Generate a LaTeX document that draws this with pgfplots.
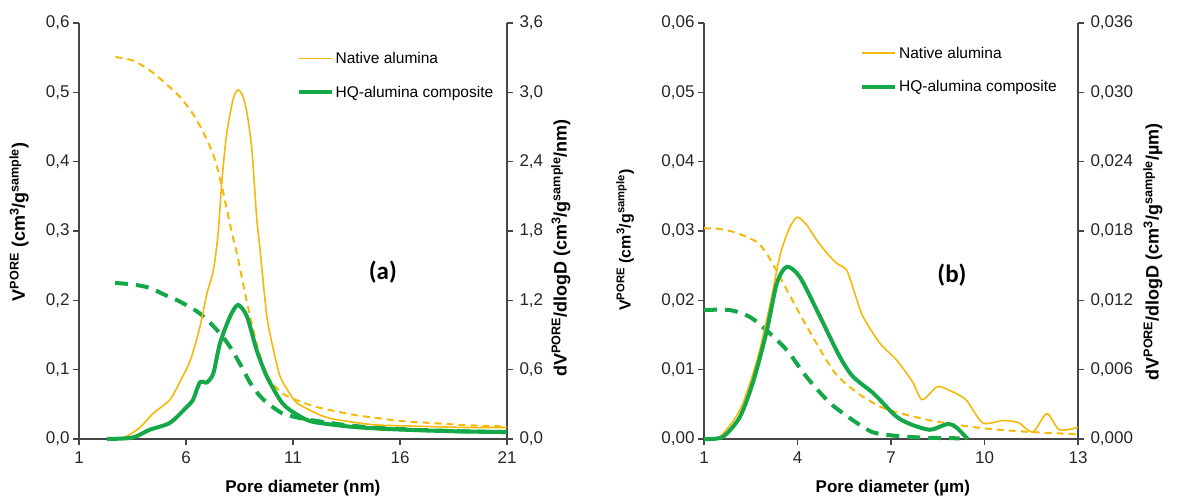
\documentclass[border=0pt]{standalone}
\usepackage{pgfplots}
\pgfplotsset{compat=1.18}
\usepackage{fontspec}
\setmainfont{Liberation Sans}
\newfontfamily\calib{Carlito}
\definecolor{ylw}{RGB}{245,185,10}
\definecolor{grn}{RGB}{20,168,72}
\definecolor{axc}{RGB}{70,70,70}

\pgfplotsset{
  base/.style={
    scale only axis, height=416pt, clip=false, scaled y ticks=false,
    axis line style={axc, line width=1.3pt},
    major tick style={axc, line width=1.3pt},
    major tick length=6pt, tick align=outside,
    tick label style={font=\fontsize{17}{19}\selectfont, text=black!85},
    /pgf/number format/assume math mode=true,
    label style={font=\bfseries\fontsize{18}{20}\selectfont},
    xlabel style={font=\bfseries\fontsize{17}{19}\selectfont},
    xticklabel style={/pgf/number format/fixed, /pgf/number format/precision=0, yshift=-3pt},
  },
  lbase/.style={base, axis x line*=bottom, axis y line*=left},
  rbase/.style={base, axis y line*=right, axis x line=none, yticklabel style={xshift=3pt}},
  ysty/.style={yticklabel style={/pgf/number format/fixed, /pgf/number format/fixed zerofill,
     /pgf/number format/precision=#1, /pgf/number format/use comma}},
  nat/.style={ylw, line width=1.6pt, smooth, tension=0.45},
  natd/.style={ylw, line width=2pt, dash pattern=on 7pt off 5pt, smooth, tension=0.45},
  hq/.style={grn, line width=4pt, smooth, tension=0.45},
  hqd/.style={grn, line width=4pt, dash pattern=on 13pt off 8pt, smooth, tension=0.45},
  leg/.style={legend style={at={(axis description cs:#1)}, anchor=north west, draw=none, fill=none,
     inner sep=0pt, row sep=17pt, font=\fontsize{15.5}{17}\selectfont, cells={anchor=west}},
     legend image code/.code={\draw[##1] (0pt,0pt) -- (33pt,0pt);}},
}

\begin{document}
\begin{tikzpicture}
\useasboundingbox (0,0) rectangle (1180pt,499pt);

% ---------- panel (a) ----------
\begin{axis}[lbase, ysty=1, at={(79pt,60pt)}, anchor=south west, width=428pt,
  xmin=1, xmax=21, ymin=0, ymax=0.6,
  xtick={1,6,11,16,21}, ytick={0,0.1,0.2,0.3,0.4,0.5,0.6},
  xlabel={Pore diameter (nm)},
  xlabel style={at={(axis description cs:0.523,-0.118)}, anchor=center},
  ylabel={V\textsuperscript{PORE} (cm\textsuperscript{3}/g\textsuperscript{sample})},
  ylabel style={at={(axis description cs:-0.14,0.522)}, anchor=center},
]
\addplot[natd] coordinates {
(2.7,0.551)(3.5,0.546)(4.3,0.532)(5.0,0.514)(5.7,0.494)(6.3,0.470)(6.8,0.443)
(7.3,0.408)(7.68,0.364)(7.95,0.325)(8.2,0.290)(8.4,0.265)(8.66,0.225)(8.9,0.190)
(9.2,0.150)(9.6,0.105)(10.0,0.082)(10.5,0.066)(11,0.058)(12,0.047)(13,0.040)
(14,0.034)(15,0.030)(16,0.026)(17,0.024)(18,0.022)(19,0.020)(20,0.019)(21,0.018)};
\addplot[hqd] coordinates {
(2.68,0.225)(3.5,0.223)(4.3,0.218)(5.0,0.208)(5.6,0.200)(6.2,0.190)(6.65,0.181)
(7.05,0.170)(7.45,0.157)(7.85,0.142)(8.2,0.126)(8.6,0.104)(9.0,0.081)(9.4,0.064)
(9.8,0.052)(10.5,0.037)(11.2,0.031)(11.9,0.027)(13.5,0.020)(15,0.016)(17,0.013)
(19,0.011)(21,0.010)};
\node[font=\calib\bfseries\fontsize{25}{28}\selectfont] at (axis description cs:0.71,0.40) {(a)};
\end{axis}

\begin{axis}[rbase, ysty=1, at={(79pt,60pt)}, anchor=south west, width=428pt,
  xmin=1, xmax=21, ymin=0, ymax=3.6,
  ytick={0,0.6,1.2,1.8,2.4,3.0,3.6},
  ylabel={dV\textsuperscript{PORE}/dlogD (cm\textsuperscript{3}/g\textsuperscript{sample}/nm)},
  ylabel style={at={(axis description cs:1.126,0.459)}, anchor=center},
  leg={0.508,0.935},
]
\addplot[nat] coordinates {
(2.9,0)(3.3,0.03)(3.85,0.10)(4.46,0.22)(5.25,0.34)(5.7,0.49)(6.2,0.68)(6.65,0.97)
(6.98,1.26)(7.28,1.46)(7.5,1.78)(7.68,2.24)(7.9,2.64)(8.2,2.94)(8.43,3.02)(8.65,2.97)
(8.85,2.82)(9.08,2.50)(9.3,1.92)(9.46,1.64)(9.78,1.06)(10.1,0.76)(10.4,0.54)
(10.86,0.39)(11.2,0.31)(12.0,0.23)(12.7,0.18)(14,0.14)(15.07,0.12)(17,0.11)(19,0.10)(21,0.10)};
\addlegendentry{Native alumina}
\addplot[hq] coordinates {
(2.3,0)(3.5,0.012)(4.3,0.08)(5.25,0.14)(6.05,0.28)(6.33,0.34)(6.65,0.49)(6.98,0.49)
(7.28,0.57)(7.59,0.83)(8.06,1.06)(8.43,1.16)(8.85,1.06)(9.3,0.77)(9.78,0.54)
(10.5,0.31)(11.2,0.21)(11.9,0.15)(13.5,0.11)(15,0.09)(17,0.075)(19,0.065)(21,0.06)};
\addlegendentry{HQ-alumina composite}
\end{axis}

% ---------- panel (b) ----------
\begin{axis}[lbase, ysty=2, at={(704pt,60pt)}, anchor=south west, width=374pt,
  xmin=1, xmax=13, ymin=0, ymax=0.06,
  xtick={1,4,7,10,13}, ytick={0,0.01,0.02,0.03,0.04,0.05,0.06},
  xlabel={Pore diameter (µm)},
  xlabel style={at={(axis description cs:0.505,-0.118)}, anchor=center},
  ylabel={V\textsuperscript{PORE} (cm\textsuperscript{3}/g\textsuperscript{sample})},
  ylabel style={at={(axis description cs:-0.211,0.478)}, anchor=center, font=\bfseries\fontsize{16}{18}\selectfont},
]
\addplot[natd] coordinates {
(1,0.0304)(1.5,0.0303)(2.06,0.0297)(2.7,0.0284)(3.0,0.0268)(3.3,0.0245)(3.66,0.0215)
(4.3,0.0162)(5.13,0.00995)(5.6,0.0078)(6.1,0.0061)(6.64,0.0047)(7.0,0.0041)
(8.24,0.0027)(9.85,0.0016)(11.5,0.0010)(13,0.0007)};
\addplot[hqd] coordinates {
(1,0.0186)(1.83,0.0186)(2.47,0.0176)(3.0,0.0157)(3.66,0.0128)(4.3,0.0089)(5.04,0.0052)
(5.78,0.0027)(6.4,0.0010)(7.06,0.0005)(8.0,0.0002)(9.2,0.0001)};
\node[font=\calib\bfseries\fontsize{25}{28}\selectfont] at (axis description cs:0.663,0.394) {(b)};
\end{axis}

\begin{axis}[rbase, ysty=3, at={(704pt,60pt)}, anchor=south west, width=374pt,
  xmin=1, xmax=13, ymin=0, ymax=0.036,
  ytick={0,0.006,0.012,0.018,0.024,0.030,0.036},
  ylabel={dV\textsuperscript{PORE}/dlogD (cm\textsuperscript{3}/g\textsuperscript{sample}/µm)},
  ylabel style={at={(axis description cs:1.2,0.45)}, anchor=center},
  leg={0.417,0.948},
]
\addplot[nat] coordinates {
(1,0)(1.5,0.00018)(2.15,0.0025)(2.7,0.0068)(3.1,0.0114)(3.44,0.0159)(3.75,0.0183)
(4.0,0.0192)(4.3,0.0185)(4.62,0.0172)(4.94,0.0161)(5.26,0.0152)(5.58,0.0146)
(5.85,0.0125)(6.1,0.0106)(6.64,0.0083)(7.19,0.0068)(7.7,0.0049)(8.0,0.0034)
(8.47,0.0045)(8.8,0.0043)(9.4,0.0034)(9.94,0.0014)(10.6,0.0016)(11.1,0.0014)
(11.55,0.0006)(12.0,0.0022)(12.4,0.0008)(13,0.0010)};
\addlegendentry{Native alumina}
\addplot[hq] coordinates {
(1,0)(1.6,0.00018)(2.15,0.0019)(2.57,0.0049)(3.0,0.0092)(3.34,0.0135)(3.66,0.0149)
(4.08,0.0140)(4.72,0.0106)(5.36,0.0071)(5.78,0.0054)(6.42,0.0040)(6.64,0.0034)
(7.19,0.0019)(7.7,0.0012)(8.24,0.0008)(8.6,0.0011)(8.85,0.0013)(9.1,0.0010)(9.46,0)};
\addlegendentry{HQ-alumina composite}
\end{axis}
\end{tikzpicture}
\end{document}
